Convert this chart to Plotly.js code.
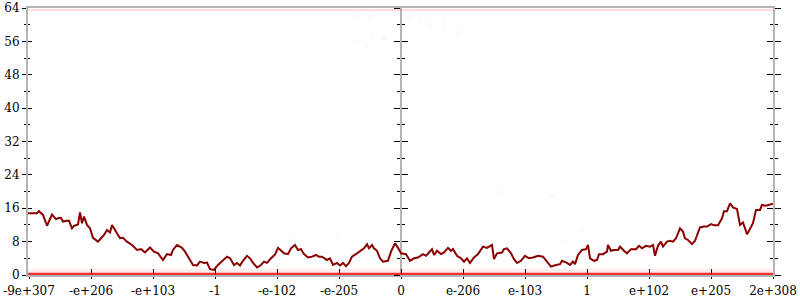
<!DOCTYPE html>
<html>
<head>
<meta charset="utf-8">
<script src="https://cdn.plot.ly/plotly-3.0.1.min.js"></script>
<style>html,body{margin:0;padding:0;background:#fff;}#chart{width:800px;height:300px;}</style>
</head>
<body>
<div id="chart"></div>
<script>
// ordinal position of each sample (tick spacing = 62 ordinal units, 0 at the centre)
const ordinal = [-373,-368,-364,-362,-358,-354,-352,-349,-345,-343,
-340,-338,-334,-332,-329,-327,-323,-321,-319,-317,
-314,-311,-308,-303,-300,-297,-294,-291,-289,-285,
-281,-278,-274,-269,-264,-260,-256,-251,-247,-243,
-238,-234,-230,-228,-224,-219,-216,-212,-208,-204,
-201,-197,-194,-191,-187,-183,-179,-174,-171,-167,
-164,-161,-158,-154,-151,-148,-144,-140,-137,-134,
-130,-126,-123,-120,-117,-113,-110,-106,-103,-100,
-97,-93,-89,-85,-82,-79,-74,-71,-68,-64,
-61,-58,-55,-52,-49,-44,-40,-37,-34,-32,
-29,-27,-24,-21,-18,-13,-10,-6,-3,0,
5,9,13,17,22,25,28,31,33,36,
40,43,47,50,52,56,60,63,66,69,
73,77,82,86,91,93,96,101,103,106,
110,113,116,120,124,128,132,137,142,146,
150,155,159,161,166,169,172,174,177,181,
185,187,189,193,196,198,202,206,207,210,
213,217,219,223,226,230,235,238,241,245,
249,252,254,257,260,262,266,269,272,275,
279,282,284,287,291,294,299,303,306,310,
313,317,321,323,326,329,332,336,339,342,
346,348,352,355,359,361,365,372];

const bits = [14.8,14.8,14.8,15.3,14.4,11.8,12.9,14.5,13.4,13.6,
13.7,12.8,13.0,13.0,11.2,11.8,12.1,15.0,12.4,14.0,
12.0,11.2,8.9,8.0,8.8,9.6,10.8,10.2,12.0,10.4,
8.8,8.9,8.0,7.2,6.0,6.2,5.4,6.6,5.6,5.2,
3.6,5.0,4.8,6.0,7.2,6.5,5.6,4.0,2.4,2.3,
3.2,2.9,3.0,1.4,1.2,2.4,3.2,4.4,4.0,2.4,
2.9,2.3,3.4,4.6,4.0,2.9,1.8,2.4,3.2,2.9,
4.0,4.9,6.5,5.8,5.2,5.0,6.4,7.2,6.0,6.2,
5.0,4.2,4.4,4.8,4.4,4.4,3.6,4.0,2.4,2.9,
2.3,2.9,2.1,2.9,4.4,5.2,5.8,6.4,7.4,6.4,
7.2,6.4,5.8,4.0,3.2,3.4,5.6,7.6,6.5,5.2,
5.0,3.4,4.0,4.2,5.0,4.6,5.4,6.2,4.8,5.8,
5.0,5.4,6.5,5.8,6.2,4.6,4.0,3.2,4.0,2.9,
4.2,5.0,6.8,6.5,7.2,3.8,5.2,5.4,6.2,6.4,
5.2,3.8,2.9,3.4,4.6,4.0,4.2,4.6,4.4,3.2,
2.0,2.4,2.6,3.4,2.9,2.4,3.2,2.6,4.8,6.0,
6.2,7.2,4.0,3.4,3.6,5.0,5.0,5.6,7.2,5.8,
6.0,6.0,6.8,5.8,5.2,6.2,6.2,7.0,6.4,7.0,
6.8,7.2,4.6,7.0,8.0,6.8,8.0,8.2,8.0,8.8,
11.2,10.4,8.8,8.4,7.4,8.2,11.4,11.6,11.6,12.2,
11.9,11.9,13.6,15.3,15.3,17.2,16.2,15.8,12.0,12.6,
9.8,10.6,12.4,15.6,15.6,16.8,16.6,17.1];

// faint scattered samples
const strayX = [99,-63,-108,151,181,164,-44,-31,-29,-43,-29,-34,-17,7,19,29,42,57,44];
const strayY = [19.7,8.9,9.6,19.0,10.8,7.9,61.8,61.0,62.0,56.0,57.0,55.0,56.5,62.0,61.0,60.0,61.0,58.0,59.0];

// dense bands of samples at the floor and ceiling
const bandX = [-373, 372];
const floorY = [0.25, 0.25];
const floorBandY = [1.5, 1.5];
const ceilY = [63.5, 63.5];

const tickPos = [-372,-310,-248,-186,-124,-62,0,62,124,186,248,310,372];
const tickLabels = ['-9e+307','-e+206','-e+103','-1','-e-102','-e-205','0','e-206','e-103','1','e+102','e+205','2e+308'];

const gray = '#b4b4b4';
const xr = [-373, 372];
const yr = [0, 64];

const traces = [
  {x: bandX, y: floorBandY, type:'scatter', mode:'lines', line:{width:0, color:'rgba(0,0,0,0)'}, fill:'tozeroy', fillcolor:'rgba(255,70,70,0.10)', hoverinfo:'skip'},
  {x: bandX, y: floorY, type:'scatter', mode:'lines', line:{width:2.2, color:'rgba(236,30,30,0.9)'}, hoverinfo:'skip'},
  {x: bandX, y: ceilY, type:'scatter', mode:'lines', line:{width:2, color:'rgba(255,90,90,0.22)'}, hoverinfo:'skip'},
  {x: strayX, y: strayY, type:'scatter', mode:'markers', marker:{size:4, color:'rgba(255,80,80,0.05)'}, hoverinfo:'skip'},
  {x: ordinal, y: bits, type:'scatter', mode:'lines', line:{width:2, color:'#8b0000'}},
  {x: [], y: [], xaxis:'x2', yaxis:'y'},
  {x: [], y: [], xaxis:'x', yaxis:'y2'},
  {x: [], y: [], xaxis:'x', yaxis:'y3'},
  {x: [], y: [], xaxis:'x', yaxis:'y4'},
  {x: [], y: [], xaxis:'x', yaxis:'y5'},
  {x: [], y: [], xaxis:'x', yaxis:'y6'}
];

function yax(extra){
  return Object.assign({range: yr, tick0:0, dtick:8, showgrid:false, zeroline:false, tickcolor:'black', tickwidth:1, layer:'below traces', fixedrange:true}, extra);
}

const layout = {
  width: 800, height: 300,
  margin: {l:28, r:27, t:8, b:25, pad:0},
  paper_bgcolor:'white', plot_bgcolor:'white',
  showlegend:false,
  font: {family:'DejaVu Serif', size:12, color:'black'},
  xaxis: {range: xr, tickmode:'array', tickvals: tickPos, ticktext: tickLabels, ticks:'outside', ticklen:2, tickcolor:'black',
          ticklabelstandoff:2,
          showline:true, linecolor:gray, linewidth:2, mirror:true, showgrid:false, zeroline:false, layer:'below traces', fixedrange:true},
  xaxis2: {overlaying:'x', anchor:'y', range: xr, tickmode:'array', tickvals: tickPos, ticks:'inside', ticklen:6, tickcolor:'black',
           showticklabels:false, showline:false, showgrid:false, zeroline:false, layer:'below traces'},
  yaxis: yax({ticks:'outside', ticklen:4, minor:{ticks:'outside', ticklen:2, dtick:4, tickcolor:'black'},
              showline:true, linecolor:gray, linewidth:2, anchor:'x'}),
  yaxis2: yax({overlaying:'y', anchor:'x', ticks:'inside', ticklen:4, minor:{ticks:'inside', ticklen:2, dtick:4, tickcolor:'black'},
               showticklabels:false, showline:false}),
  yaxis3: yax({overlaying:'y', anchor:'free', position:0.5, ticks:'outside', ticklen:6, minor:{ticks:'outside', ticklen:3, dtick:4, tickcolor:'black'},
               showticklabels:false, showline:true, linecolor:gray, linewidth:2}),
  yaxis4: yax({overlaying:'y', anchor:'free', position:0.5, ticks:'inside', ticklen:6, minor:{ticks:'inside', ticklen:3, dtick:4, tickcolor:'black'},
               showticklabels:false, showline:false}),
  yaxis5: yax({overlaying:'y', anchor:'x', side:'right', ticks:'outside', ticklen:6, minor:{ticks:'outside', ticklen:3, dtick:4, tickcolor:'black'},
               showticklabels:false, showline:true, linecolor:gray, linewidth:2}),
  yaxis6: yax({overlaying:'y', anchor:'x', side:'right', ticks:'inside', ticklen:6, minor:{ticks:'inside', ticklen:3, dtick:4, tickcolor:'black'},
               showticklabels:false, showline:false})
};

Plotly.newPlot('chart', traces, layout, {staticPlot:true, displayModeBar:false});
</script>
</body>
</html>
